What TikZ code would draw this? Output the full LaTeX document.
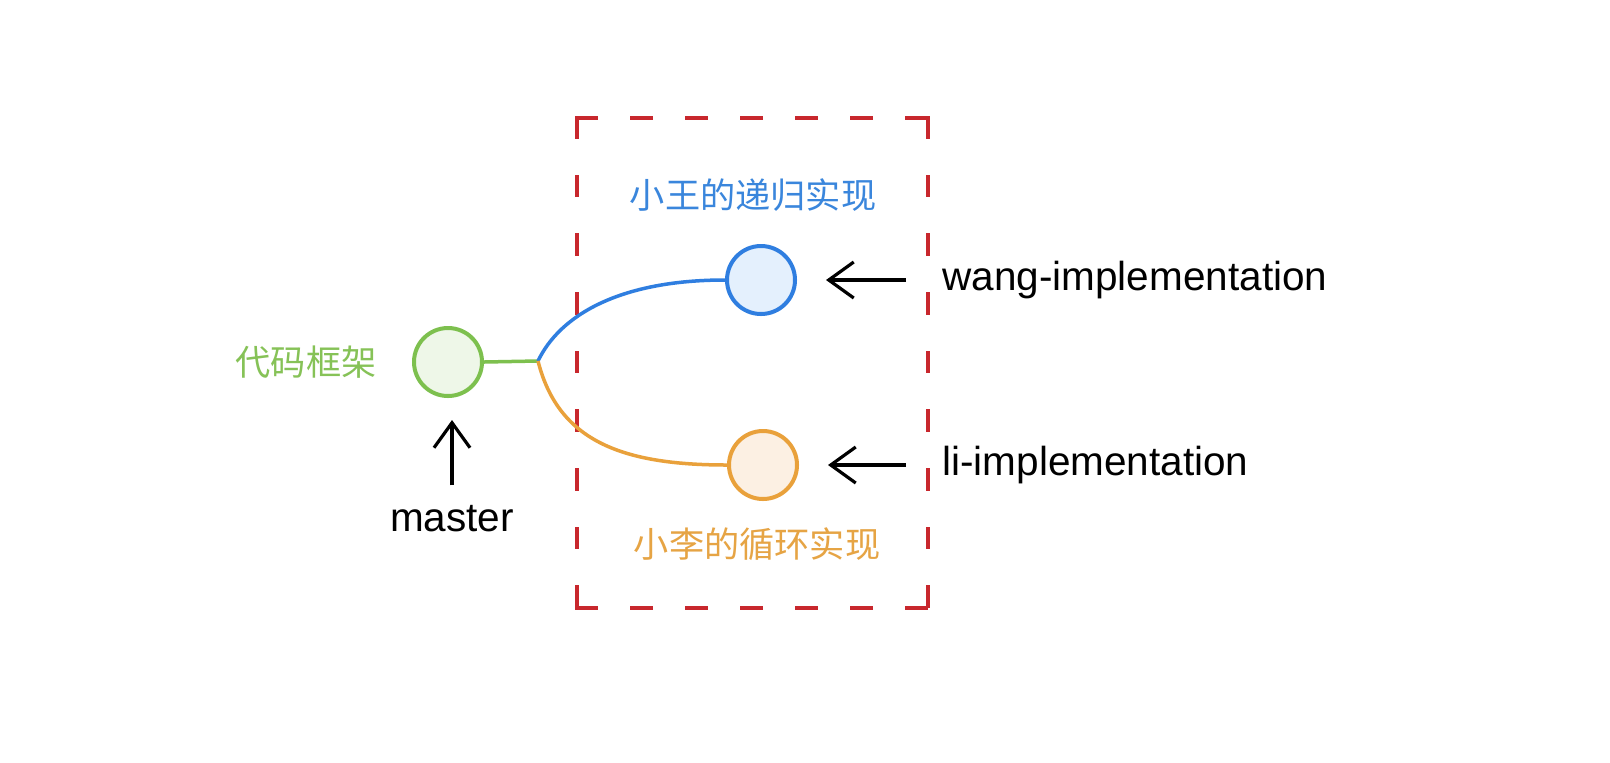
\documentclass[tikz,border=0pt]{standalone}
\usepackage{fontspec}
\setmainfont{Liberation Sans}
\newfontfamily\cjk{Noto Sans CJK SC}
\usetikzlibrary{arrows.meta}
\definecolor{cgreen}{HTML}{7DC04E}
\definecolor{cgreenfill}{HTML}{EEF7E8}
\definecolor{cgreentext}{HTML}{86C257}
\definecolor{cblue}{HTML}{2F7EE0}
\definecolor{cbluefill}{HTML}{E4F0FD}
\definecolor{cbluetext}{HTML}{3A86DC}
\definecolor{corange}{HTML}{E9A13B}
\definecolor{corangefill}{HTML}{FCF0E3}
\definecolor{corangetext}{HTML}{E6A444}
\definecolor{cred}{HTML}{C8272D}
\begin{document}
\begin{tikzpicture}[x=0.5pt,y=-0.5pt,
  commit/.style={circle, minimum size=34pt, inner sep=0pt, line width=2pt},
  cnlabel/.style={font=\cjk\fontsize{17.6pt}{20pt}\selectfont, inner sep=0pt},
  enlabel/.style={font=\fontsize{20.25pt}{24pt}\selectfont, inner sep=0pt, text=black},
  pointer/.style={line width=1.6pt, draw=black, -{Straight Barb[length=12.5pt,width=18pt]}},
  branch/.style={line width=1.75pt},
  redside/.style={draw=cred, line width=1.8pt, line cap=rect}
]
\useasboundingbox[fill=white] (0,0) rectangle (1610,762);

% dashed box
\coordinate (bTL) at (577,118);
\coordinate (bTR) at (928,118);
\coordinate (bBL) at (577,608);
\coordinate (bBR) at (928,608);
\draw[redside, dash pattern=on 9.5pt off 18pt] (bTL) -- (bTR);
\draw[redside, dash pattern=on 9.5pt off 18pt] (bBL) -- (bBR);
\draw[redside, dash pattern=on 9.5pt off 19.81pt] (bTL) -- (bBL);
\draw[redside, dash pattern=on 9.5pt off 19.81pt] (bTR) -- (bBR);

% commits
\node[commit, draw=cgreen, fill=cgreenfill] (code) at (448,362) {};
\node[commit, draw=cblue, fill=cbluefill] (wang) at (761,280) {};
\node[commit, draw=corange, fill=corangefill] (li) at (763,465) {};
\coordinate (junc) at (538,361);

% branches
\draw[branch, draw=cgreen] (code.east) -- (junc);
\draw[branch, draw=cblue] (junc) .. controls (560,315) and (620,280) .. (wang.west);
\draw[branch, draw=corange] (junc) .. controls (558,440) and (620,465) .. (li.west);

% labels
\node[cnlabel, text=cgreentext] (codelab) at (306,362) {代码框架};
\node[cnlabel, text=cbluetext] (wangcn) at (753,195) {小王的递归实现};
\node[cnlabel, text=corangetext] (licn) at (757,544) {小李的循环实现};
\node[enlabel, anchor=west] (wlab) at (942,280) {wang-implementation};
\node[enlabel, anchor=west] (llab) at (942,465) {li-implementation};
\node[enlabel] (master) at (452,519) {master};

% pointers
\draw[pointer, shorten <=18pt, shorten >=14.5pt] (wlab.west) -- (wang.east);
\draw[pointer, shorten <=18pt, shorten >=14.5pt] (llab.west) -- (li.east);
\draw[pointer, shorten <=10pt, shorten >=11pt] (master.north) -- (master.north |- code.south);
\end{tikzpicture}
\end{document}
